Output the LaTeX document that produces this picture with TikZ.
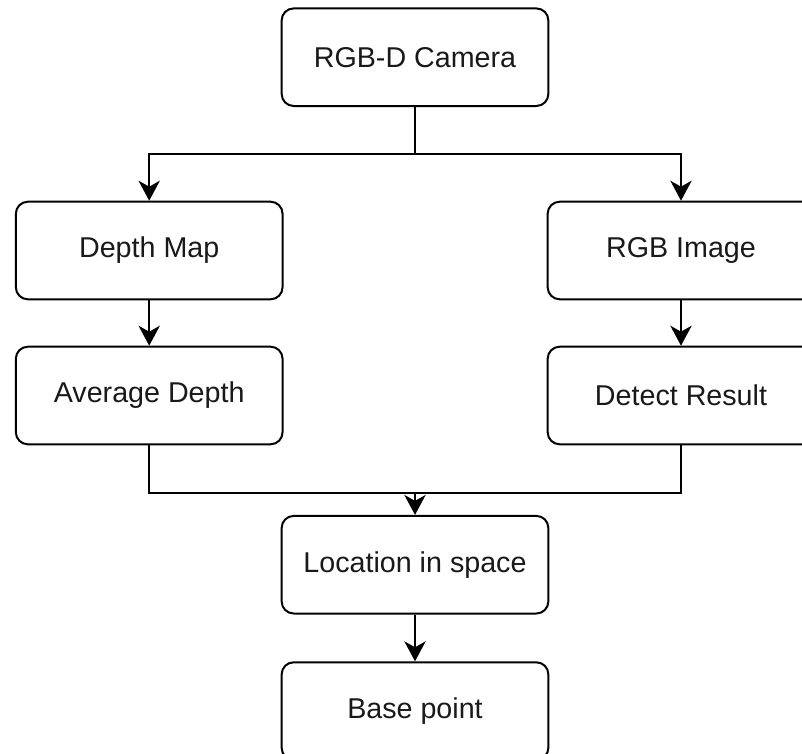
\documentclass[tikz,border=0pt]{standalone}
\usepackage{fontspec}
\setmainfont{Liberation Sans}
\usetikzlibrary{arrows.meta}
\begin{document}
\begin{tikzpicture}[x=0.75pt,y=-0.75pt,
  box/.style={draw=black, line width=1.5pt, rounded corners=9pt, rectangle,
    minimum width=200pt, minimum height=73.2pt, inner sep=0pt,
    font=\fontsize{21.5}{25}\selectfont, text=black!90},
  conn/.style={draw=black, line width=1.5pt},
  arr/.style={conn, -{Stealth[length=15pt,width=16pt,inset=4.5pt]}}]
\useasboundingbox (0,0) rectangle (802,753);
\node[box] (cam) at (415,57.2) {RGB-D Camera};
\node[box] (dmap) at (149.2,250.5) {Depth Map};
\node[box] (rgb) at (681,250.5) {RGB Image};
\node[box] (avg) at (149.2,395.5) {Average Depth};
\node[box] (det) at (681,395.5) {Detect Result};
\node[box] (loc) at (415,564.7) {Location in space};
\node[box] (base) at (415,711.1) {Base point};
\coordinate (s1) at (415,154);
\coordinate (m1) at (415,492.7);
\draw[conn] (cam.south) -- (s1);
\draw[arr] (s1) -| (dmap.north);
\draw[arr] (s1) -| (rgb.north);
\draw[arr] (dmap) -- (avg);
\draw[arr] (rgb) -- (det);
\draw[conn] (avg.south) |- (m1);
\draw[conn] (det.south) |- (m1);
\draw[arr] (m1) -- (loc.north);
\draw[arr] (loc) -- (base);
\end{tikzpicture}
\end{document}
